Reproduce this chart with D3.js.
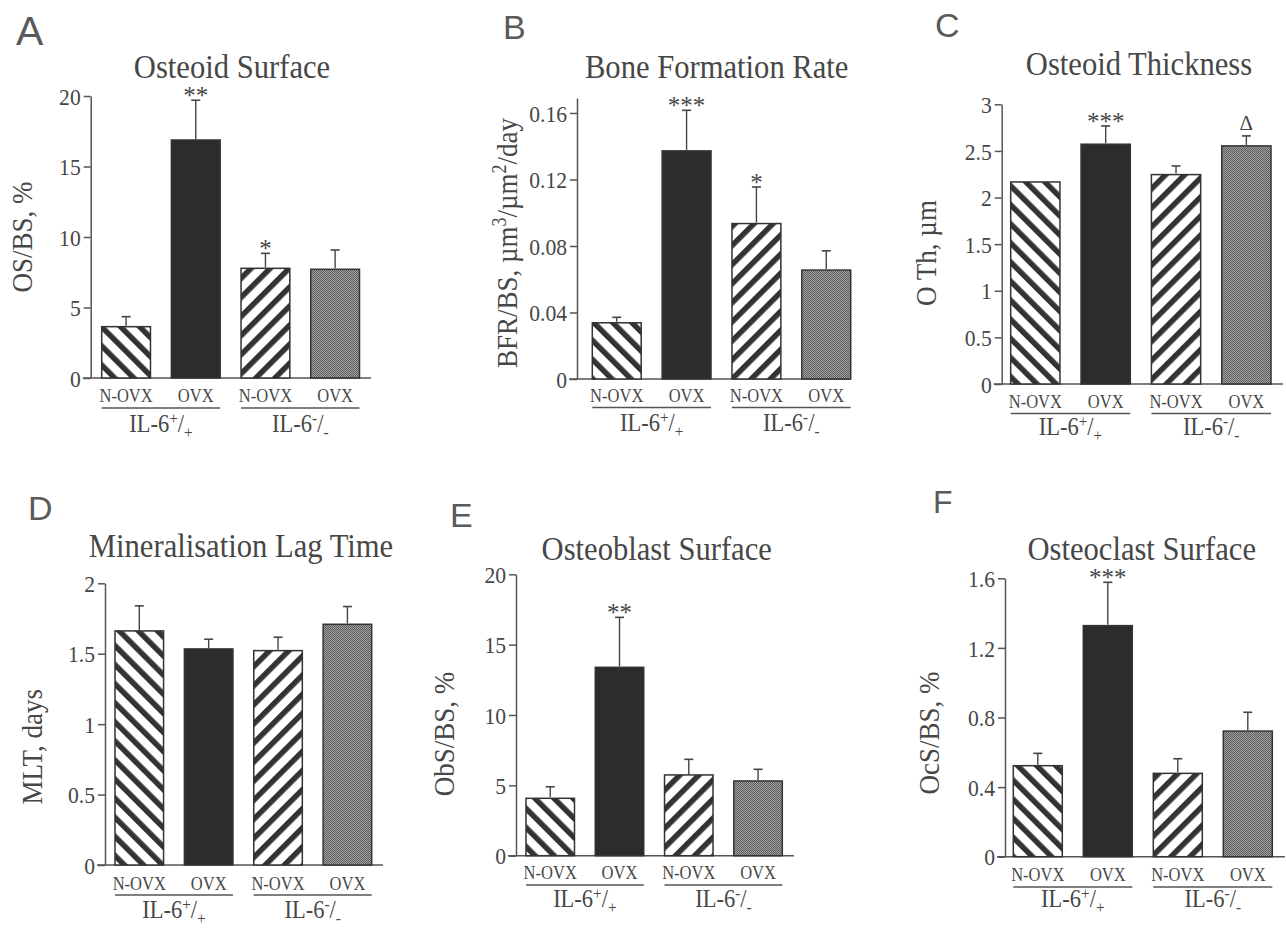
<!DOCTYPE html>
<html>
<head>
<meta charset="utf-8">
<script src="https://cdn.jsdelivr.net/npm/d3@7"></script>
<style>
  body { margin: 0; background: #fff; }
  svg { display: block; }
  text { font-family: "Liberation Serif", "Times New Roman", serif; fill: #474747; }
  text.letter { font-family: "Liberation Sans", Arial, sans-serif; fill: #5a5a5a; }
</style>
</head>
<body>
<div id="chart"></div>
<script>
// categories shared by every panel
const categories = ['N-OVX', 'OVX', 'N-OVX', 'OVX'];
const groups = [['IL-6', '+', '+'], ['IL-6', '-', '-']];

// A - osteoid surface
const osteoidSurface = [3.64, 16.88, 7.78, 7.71];
const osteoidSurfaceSem = [0.71, 2.82, 1.06, 1.37];
const osteoidSurfaceSig = ['', '**', '*', ''];
const osteoidSurfaceTicks = [0, 5, 10, 15, 20];

// B - bone formation rate
const boneFormation = [0.0338, 0.1372, 0.0935, 0.0655];
const boneFormationSem = [0.0033, 0.0244, 0.022, 0.0116];
const boneFormationSig = ['', '***', '*', ''];
const boneFormationTicks = [0, 0.04, 0.08, 0.12, 0.16];

// C - osteoid thickness
const osteoidThickness = [2.167, 2.572, 2.246, 2.554];
const osteoidThicknessSem = [0, 0.196, 0.093, 0.107];
const osteoidThicknessSig = ['', '***', '', 'Δ'];
const osteoidThicknessTicks = [0, 0.5, 1, 1.5, 2, 2.5, 3];

// D - mineralisation lag time
const lagTime = [1.662, 1.534, 1.522, 1.709];
const lagTimeSem = [0.178, 0.069, 0.095, 0.126];
const lagTimeSig = ['', '', '', ''];
const lagTimeTicks = [0, 0.5, 1, 1.5, 2];

// E - osteoblast surface
const osteoblast = [4.08, 13.39, 5.74, 5.31];
const osteoblastSem = [0.82, 3.55, 1.11, 0.83];
const osteoblastSig = ['', '**', '', ''];
const osteoblastTicks = [0, 5, 10, 15, 20];

// F - osteoclast surface
const osteoclast = [0.523, 1.328, 0.479, 0.722];
const osteoclastSem = [0.071, 0.249, 0.084, 0.108];
const osteoclastSig = ['', '***', '', ''];
const osteoclastTicks = [0, 0.4, 0.8, 1.2, 1.6];

const barFills = ['url(#hatchDown)', '#2c2c2c', 'url(#hatchUp)', 'url(#stipple)'];

const panels = [
  {letter: 'A', title: 'Osteoid Surface', ylabel: [['OS/BS, %', 0]],
   values: osteoidSurface, sem: osteoidSurfaceSem, sig: osteoidSurfaceSig, ticks: osteoidSurfaceTicks, max: 20,
   letterX: 16, letterY: 45, letterSize: 41, titleX: 232, titleY: 78,
   axisX: 90.7, axisEnd: 371, y0: 378, yTop: 96, bars: [101.7, 359.5],
   ylabelX: 22, ylabelY: 237, catY: 402, lineY: 408, groupY: 432},
  {letter: 'B', title: 'Bone Formation Rate',
   ylabel: [['BFR/BS, µm', 0], ['3', 1], ['/µm', 0], ['2', 1], ['/day', 0]],
   values: boneFormation, sem: boneFormationSem, sig: boneFormationSig, ticks: boneFormationTicks, max: 0.169,
   letterX: 503, letterY: 39, letterSize: 34, titleX: 716.7, titleY: 78,
   axisX: 577, axisEnd: 851, y0: 379, yTop: 98, bars: [592.3, 850.7],
   ylabelX: 507, ylabelY: 243, catY: 402, lineY: 407.5, groupY: 431},
  {letter: 'C', title: 'Osteoid Thickness', ylabel: [['O Th, µm', 0]],
   values: osteoidThickness, sem: osteoidThicknessSem, sig: osteoidThicknessSig, ticks: osteoidThicknessTicks, max: 3,
   letterX: 935, letterY: 37, letterSize: 34, titleX: 1139, titleY: 75,
   axisX: 1001.7, axisEnd: 1283, y0: 384, yTop: 104.3, bars: [1010.7, 1271],
   ylabelX: 926, ylabelY: 253, catY: 408, lineY: 413.5, groupY: 435},
  {letter: 'D', title: 'Mineralisation Lag Time', ylabel: [['MLT, days', 0]],
   values: lagTime, sem: lagTimeSem, sig: lagTimeSig, ticks: lagTimeTicks, max: 2,
   letterX: 28, letterY: 520, letterSize: 34, titleX: 241, titleY: 556.7,
   axisX: 105, axisEnd: 383, y0: 865, yTop: 583.3, bars: [115, 371.7],
   ylabelX: 32, ylabelY: 746.7, catY: 890, lineY: 895, groupY: 918},
  {letter: 'E', title: 'Osteoblast Surface', ylabel: [['ObS/BS, %', 0]],
   values: osteoblast, sem: osteoblastSem, sig: osteoblastSig, ticks: osteoblastTicks, max: 20,
   letterX: 450, letterY: 527, letterSize: 34, titleX: 656.7, titleY: 560,
   axisX: 516, axisEnd: 794, y0: 855.7, yTop: 574.3, bars: [526, 782.3],
   ylabelX: 444, ylabelY: 734, catY: 879, lineY: 885, groupY: 907},
  {letter: 'F', title: 'Osteoclast Surface', ylabel: [['OcS/BS, %', 0]],
   values: osteoclast, sem: osteoclastSem, sig: osteoclastSig, ticks: osteoclastTicks, max: 1.6,
   letterX: 933, letterY: 513, letterSize: 32, titleX: 1141.7, titleY: 560,
   axisX: 1005, axisEnd: 1285, y0: 856.7, yTop: 578.3, bars: [1013.3, 1272.3],
   ylabelX: 929, ylabelY: 733, catY: 881, lineY: 887, groupY: 907}
];

const svg = d3.select('#chart').append('svg')
  .attr('width', 1286)
  .attr('height', 928);

const defs = svg.append('defs');

function hatch(id, angle) {
  const p = defs.append('pattern')
    .attr('id', id)
    .attr('patternUnits', 'userSpaceOnUse')
    .attr('width', 13.5)
    .attr('height', 13.5)
    .attr('patternTransform', 'rotate(' + angle + ')');
  p.append('rect').attr('width', 13.5).attr('height', 13.5).attr('fill', '#fff');
  p.append('rect').attr('width', 5.5).attr('height', 13.5).attr('fill', '#333');
}
hatch('hatchDown', -45);
hatch('hatchUp', 45);

const stip = defs.append('pattern')
  .attr('id', 'stipple')
  .attr('patternUnits', 'userSpaceOnUse')
  .attr('width', 2)
  .attr('height', 2);
stip.append('rect').attr('width', 2).attr('height', 2).attr('fill', '#a0a0a0');
stip.append('rect').attr('width', 1).attr('height', 1).attr('fill', '#5e5e5e');
stip.append('rect').attr('x', 1).attr('y', 1).attr('width', 1).attr('height', 1).attr('fill', '#5e5e5e');

// the original type is a narrow Times, so squeeze the glyphs a bit
function condense(sel, k) {
  sel.each(function() {
    const w = this.getComputedTextLength();
    d3.select(this)
      .attr('textLength', w * k)
      .attr('lengthAdjust', 'spacingAndGlyphs');
  });
}

function drawPanel(p) {
  const g = svg.append('g');
  const idx = d3.range(p.values.length);

  const x = d3.scaleBand()
    .domain(idx)
    .range(p.bars)
    .paddingInner(0.3)
    .paddingOuter(0);

  const y = d3.scaleLinear()
    .domain([0, p.max])
    .range([p.y0, p.yTop]);

  // panel letter and title
  g.append('text')
    .attr('class', 'letter')
    .attr('x', p.letterX)
    .attr('y', p.letterY)
    .style('font-size', p.letterSize + 'px')
    .text(p.letter);

  g.append('text')
    .attr('x', p.titleX)
    .attr('y', p.titleY)
    .attr('text-anchor', 'middle')
    .style('font-size', '34px')
    .text(p.title)
    .call(condense, 0.9);

  // y axis
  const ya = g.append('g')
    .attr('transform', 'translate(' + p.axisX + ',0)')
    .attr('color', '#555')
    .call(d3.axisLeft(y)
      .tickValues(p.ticks)
      .tickSize(7)
      .tickSizeOuter(0)
      .tickPadding(3)
      .tickFormat(d3.format('~g')));
  ya.selectAll('path, line').attr('stroke-width', 1.5);
  ya.selectAll('text').style('font-size', '24px').attr('dy', '0.34em').call(condense, 0.9);

  // baseline
  g.append('line')
    .attr('x1', p.axisX - 8)
    .attr('x2', p.axisEnd)
    .attr('y1', y(0))
    .attr('y2', y(0))
    .attr('stroke', '#555')
    .attr('stroke-width', 1.5);

  // y label
  const yl = g.append('text')
    .attr('transform', 'translate(' + (p.ylabelX + 10) + ',' + p.ylabelY + ') rotate(-90)')
    .attr('text-anchor', 'middle')
    .style('font-size', '30px');
  let shifted = false;
  p.ylabel.forEach(function(s) {
    const t = yl.append('tspan').text(s[0]);
    if (s[1] && !shifted) {
      t.attr('dy', -11).style('font-size', '20px');
      shifted = true;
    } else if (!s[1] && shifted) {
      t.attr('dy', 11);
      shifted = false;
    }
  });
  yl.call(condense, 0.9);

  // bars
  g.selectAll('rect.bar')
    .data(idx)
    .enter()
    .append('rect')
    .attr('class', 'bar')
    .attr('x', function(i) { return x(i); })
    .attr('y', function(i) { return y(p.values[i]); })
    .attr('width', x.bandwidth())
    .attr('height', function(i) { return y(0) - y(p.values[i]); })
    .attr('fill', function(i) { return barFills[i]; })
    .attr('stroke', '#333')
    .attr('stroke-width', 1.5);

  // error bars (upper only)
  const withErr = idx.filter(function(i) { return p.sem[i] > 0; });
  const cx = function(i) { return x(i) + x.bandwidth() / 2; };
  g.selectAll('line.err')
    .data(withErr)
    .enter()
    .append('line')
    .attr('class', 'err')
    .attr('x1', cx)
    .attr('x2', cx)
    .attr('y1', function(i) { return y(p.values[i]) - 1; })
    .attr('y2', function(i) { return y(p.values[i] + p.sem[i]); })
    .attr('stroke', '#444')
    .attr('stroke-width', 1.4);
  g.selectAll('line.cap')
    .data(withErr)
    .enter()
    .append('line')
    .attr('class', 'cap')
    .attr('x1', function(i) { return cx(i) - 4.5; })
    .attr('x2', function(i) { return cx(i) + 4.5; })
    .attr('y1', function(i) { return y(p.values[i] + p.sem[i]); })
    .attr('y2', function(i) { return y(p.values[i] + p.sem[i]); })
    .attr('stroke', '#444')
    .attr('stroke-width', 1.6);

  // significance marks
  g.selectAll('text.sig')
    .data(idx.filter(function(i) { return p.sig[i] !== ''; }))
    .enter()
    .append('text')
    .attr('class', 'sig')
    .attr('x', cx)
    .attr('y', function(i) {
      const top = y(p.values[i] + p.sem[i]);
      return p.sig[i] === 'Δ' ? top - 6 : top + 4;
    })
    .attr('text-anchor', 'middle')
    .style('font-size', function(i) { return p.sig[i] === 'Δ' ? '21px' : '25px'; })
    .text(function(i) { return p.sig[i]; });

  // category labels
  const xa = g.append('g')
    .attr('transform', 'translate(0,' + p.catY + ')')
    .call(d3.axisBottom(x)
      .tickSize(0)
      .tickPadding(0)
      .tickFormat(function(i) { return categories[i]; }));
  xa.select('.domain').remove();
  xa.selectAll('text').attr('y', 0).attr('dy', 0).style('font-size', '19px').call(condense, 0.87);

  // group underlines and labels
  groups.forEach(function(gr, gi) {
    const x1 = x(2 * gi);
    const x2 = x(2 * gi + 1) + x.bandwidth();
    g.append('line')
      .attr('x1', x1)
      .attr('x2', x2)
      .attr('y1', p.lineY)
      .attr('y2', p.lineY)
      .attr('stroke', '#555')
      .attr('stroke-width', 1.3);
    const t = g.append('text')
      .attr('x', (x1 + x2) / 2)
      .attr('y', p.groupY)
      .attr('text-anchor', 'middle')
      .style('font-size', '25px');
    t.append('tspan').text(gr[0]);
    t.append('tspan').attr('dy', -8).style('font-size', '17px').text(gr[1]);
    t.append('tspan').attr('dy', 8).text('/');
    t.append('tspan').attr('dy', 6).style('font-size', '17px').text(gr[2]);
    t.call(condense, 0.9);
  });
}

panels.forEach(drawPanel);
</script>
</body>
</html>
